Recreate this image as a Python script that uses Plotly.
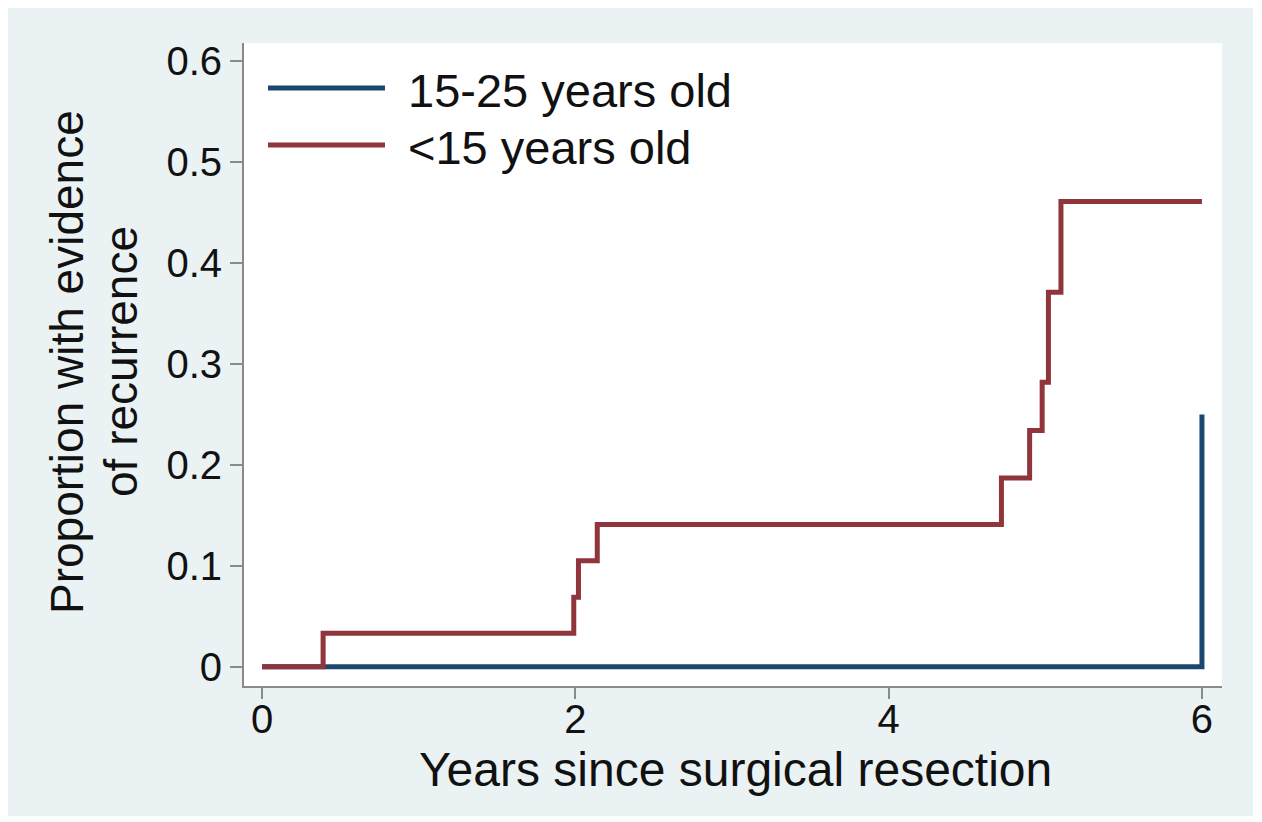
import plotly.graph_objects as go

# Data
years_red = [0, 0.39, 1.99, 2.02, 2.14, 4.72, 4.90, 4.98, 5.02, 5.10, 6.0]
prop_red = [0, 0.0333, 0.069, 0.105, 0.141, 0.187, 0.234, 0.282, 0.371, 0.461, 0.461]
years_blue = [0, 6.0, 6.0]
prop_blue = [0, 0, 0.25]

series_names = ["15-25 years old", "<15 years old"]
colors = ["#1a476f", "#90353b"]

x_ticks = [0, 2, 4, 6]
y_ticks = [0, 0.1, 0.2, 0.3, 0.4, 0.5, 0.6]
y_ticktext = ["0", "0.1", "0.2", "0.3", "0.4", "0.5", "0.6"]

FONT = "Liberation Sans, Arial, Helvetica, sans-serif"
BG = "#eaf2f3"
TXT = "#111111"

fig = go.Figure()
fig.add_trace(go.Scatter(x=years_blue, y=prop_blue, mode="lines", line_shape="hv",
                         line=dict(color=colors[0], width=5), name=series_names[0],
                         showlegend=False))
fig.add_trace(go.Scatter(x=years_red, y=prop_red, mode="lines", line_shape="hv",
                         line=dict(color=colors[1], width=5), name=series_names[1],
                         showlegend=False))

# page body has an 8px margin, so the figure is shifted by 8px in the screenshot
OFF = 8
W, H = 1262 - OFF, 822 - OFF
L, T = 244 - OFF, 43 - OFF
pw, ph = 978, 643
R, B = W - L - pw, H - T - ph

# helpers converting screenshot (reference) pixel positions to paper coords
def px2x(px):
    return (px - 244) / pw

def py2y(py):
    return (686 - py) / ph

shapes = [
    dict(type="rect", xref="paper", yref="paper", x0=px2x(4), x1=px2x(1253),
         y0=py2y(816), y1=py2y(4), fillcolor=BG, line=dict(width=0), layer="below"),
    dict(type="rect", xref="paper", yref="paper", x0=0, x1=1, y0=0, y1=1,
         fillcolor="white", line=dict(width=0), layer="below"),
]
# legend swatches
leg_y = [88, 145]
for i in range(2):
    shapes.append(dict(type="line", xref="paper", yref="paper",
                       x0=px2x(268), x1=px2x(385), y0=py2y(leg_y[i]), y1=py2y(leg_y[i]),
                       line=dict(color=colors[i], width=5)))

annotations = []
for i in range(2):
    annotations.append(dict(text=series_names[i], xref="paper", yref="paper",
                            x=px2x(406), y=py2y(leg_y[i] + 2), xanchor="left", yanchor="middle",
                            showarrow=False, font=dict(family=FONT, size=47, color=TXT)))
annotations.append(dict(text="Years since surgical resection", xref="paper", yref="paper",
                        x=px2x(735), y=py2y(769), xanchor="center", yanchor="middle",
                        showarrow=False, font=dict(family=FONT, size=48, color=TXT)))
ytitle_lines = ["Proportion with evidence", "of recurrence"]
ytitle_x = [67, 121]
for i in range(2):
    annotations.append(dict(text=ytitle_lines[i], xref="paper", yref="paper",
                            x=px2x(ytitle_x[i]), y=py2y(362), xanchor="center", yanchor="middle",
                            textangle=-90, showarrow=False,
                            font=dict(family=FONT, size=46, color=TXT)))

fig.update_layout(
    width=W, height=H,
    margin=dict(l=L, r=R, t=T, b=B, pad=0),
    paper_bgcolor="white",
    plot_bgcolor="rgba(0,0,0,0)",
    shapes=shapes,
    annotations=annotations,
    showlegend=False,
    xaxis=dict(range=[-0.115, 6.128], tickvals=x_ticks, ticktext=[str(v) for v in x_ticks],
               showgrid=False, zeroline=False, showline=True, linecolor="#8a8a8a", linewidth=2,
               ticks="outside", ticklen=11, tickwidth=2, tickcolor="#8a8a8a",
               ticklabelstandoff=-14,
               tickfont=dict(family=FONT, size=40, color=TXT)),
    yaxis=dict(range=[-0.019, 0.618], tickvals=y_ticks, ticktext=y_ticktext,
               showgrid=False, zeroline=False, showline=True, linecolor="#8a8a8a", linewidth=2,
               ticks="outside", ticklen=12, tickwidth=2, tickcolor="#8a8a8a",
               tickfont=dict(family=FONT, size=40, color=TXT)),
)

fig.write_html("out.html")
